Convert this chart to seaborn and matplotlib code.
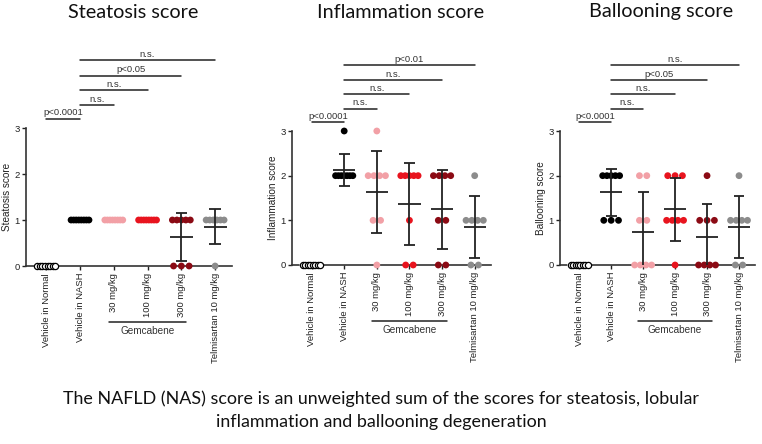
import numpy as np
import pandas as pd
import matplotlib
matplotlib.use("Agg")
import matplotlib.pyplot as plt
import matplotlib.transforms as mtransforms
import seaborn as sns

# groups along the x axis
groups = ["Vehicle in Normal", "Vehicle in NASH", "30 mg/kg", "100 mg/kg",
          "300 mg/kg", "Telmisartan 10 mg/kg"]
group_colors = ["white", "black", "#f2a0a6", "#e8141e", "#8b0a14", "#8c8c8c"]

# individual animal scores per group
steatosis = [
    [0, 0, 0, 0, 0, 0, 0, 0],
    [1, 1, 1, 1, 1, 1, 1, 1],
    [1, 1, 1, 1, 1, 1, 1, 1],
    [1, 1, 1, 1, 1, 1, 1, 1],
    [1, 1, 1, 1, 1, 0, 0, 0],
    [1, 1, 1, 1, 1, 1, 0],
]
inflammation = [
    [0, 0, 0, 0, 0, 0, 0, 0],
    [3, 2, 2, 2, 2, 2, 2, 2],
    [3, 2, 2, 2, 2, 1, 1, 0],
    [2, 2, 2, 2, 2, 1, 0, 0],
    [2, 2, 2, 2, 1, 1, 0, 0],
    [2, 1, 1, 1, 1, 0, 0],
]
ballooning = [
    [0, 0, 0, 0, 0, 0, 0, 0],
    [2, 2, 2, 2, 2, 1, 1, 1],
    [2, 2, 1, 1, 0, 0, 0, 0],
    [2, 2, 2, 1, 1, 1, 1, 0],
    [2, 1, 1, 1, 0, 0, 0, 0],
    [2, 1, 1, 1, 1, 0, 0],
]

# significance brackets: (from group, to group, label)
steatosis_stats = [(0, 1, "p<0.0001"), (1, 2, "n.s."), (1, 3, "n.s."),
                   (1, 4, "p<0.05"), (1, 5, "n.s.")]
inflammation_stats = [(0, 1, "p<0.0001"), (1, 2, "n.s."), (1, 3, "n.s."),
                      (1, 4, "n.s."), (1, 5, "p<0.01")]
ballooning_stats = [(0, 1, "p<0.0001"), (1, 2, "n.s."), (1, 3, "n.s."),
                    (1, 4, "p<0.05"), (1, 5, "n.s.")]

titles = ["Steatosis score", "Inflammation score", "Ballooning score"]
caption = ("The NAFLD (NAS) score is an unweighted sum of the scores for steatosis, lobular\n"
           "inflammation and ballooning degeneration")

sns.set_theme(style="ticks")
plt.rcParams["font.family"] = ["Liberation Sans", "DejaVu Sans"]

W, H = 762, 444
fig = plt.figure(figsize=(W / 100, H / 100), dpi=100)

# axes boxes in pixels: (left, right, y of 3, y of 0), plus title centre
panels = [
    (26, 232, 128, 266, 133),
    (292, 491, 131, 265, 401),
    (560, 755, 131, 265, 661),
]
bracket_levels = [3.2, 3.5, 3.82, 4.14, 4.47]
ink = "#222222"


def dot_frame(data):
    rows = []
    for gi, vals in enumerate(data):
        vals = np.array(vals)
        for v in np.unique(vals):
            k = int((vals == v).sum())
            step = 0.0 if k == 1 else min(0.23, 0.53 / (k - 1))
            offs = (np.arange(k) - (k - 1) / 2) * step
            for o in offs:
                rows.append({"x": gi + o, "score": v, "group": groups[gi]})
    return pd.DataFrame(rows)


for p, (data, stats, title) in enumerate(zip([steatosis, inflammation, ballooning],
                                             [steatosis_stats, inflammation_stats, ballooning_stats],
                                             titles)):
    left, right, ytop, ybot, tcx = panels[p]
    ax = fig.add_axes([left / W, (H - ybot) / H, (right - left) / W, (ybot - ytop) / H])
    df = dot_frame(data)
    sns.scatterplot(data=df, x="x", y="score", hue="group", palette=dict(zip(groups, group_colors)),
                    hue_order=groups, s=24, edgecolor=None, linewidth=0, legend=False,
                    ax=ax, clip_on=False, zorder=3)
    # open circles for the normal group
    normal = df[df["group"] == groups[0]]
    ax.scatter(normal["x"], normal["score"], s=20, facecolor="white", edgecolor="black",
               linewidth=0.9, clip_on=False, zorder=4)

    # mean and SD bars
    for gi, vals in enumerate(data):
        m = np.mean(vals)
        sd = np.std(vals, ddof=1)
        if sd == 0:
            continue
        ax.hlines(m, gi - 0.34, gi + 0.34, color=ink, lw=1.3, zorder=5)
        ax.vlines(gi, m - sd, m + sd, color=ink, lw=1.3, zorder=5)
        ax.hlines([m - sd, m + sd], gi - 0.17, gi + 0.17, color=ink, lw=1.3, zorder=5)

    ax.set_xlim(-0.6, 5.5)
    ax.set_ylim(0, 3)
    ax.set_yticks([0, 1, 2, 3])
    ax.set_xticks(range(len(groups)))
    ax.set_xticklabels(groups, rotation=90, fontsize=6.8)
    ax.tick_params(axis="y", labelsize=6.8, length=3, width=1, colors=ink, pad=1.5)
    ax.tick_params(axis="x", length=3, width=1, colors=ink, pad=2)
    ax.set_xlabel("")
    ax.set_ylabel(title, fontsize=7.2, color=ink, labelpad=2)
    sns.despine(ax=ax)
    for sp in ["left", "bottom"]:
        ax.spines[sp].set_linewidth(1.2)
        ax.spines[sp].set_color("#333333")

    # significance brackets
    for (a, b, lab), lev in zip(stats, bracket_levels):
        ax.plot([a, b], [lev, lev], color=ink, lw=1.1, clip_on=False)
        ax.text((a + b) / 2, lev + 0.03, lab, ha="center", va="bottom", fontsize=6.8,
                color="#333333", clip_on=False)

    # Gemcabene grouping line below the dose labels
    tr = mtransforms.blended_transform_factory(ax.transData, ax.transAxes)
    gy = -56 / (ybot - ytop)
    ax.plot([1.85, 4.15], [gy, gy], color=ink, lw=1.1, transform=tr, clip_on=False)
    ax.text(3, gy - 0.03, "Gemcabene", transform=tr, ha="center", va="top", fontsize=7.2,
            color="#333333")

    fig.text(tcx / W, 1 - 12 / H, title, ha="center", va="center", fontsize=14.3,
             family=["Lato", "DejaVu Sans"], color="#111111")

fig.text(0.5, 1 - 410 / H, caption, ha="center", va="center", fontsize=12.9,
         family=["Lato", "DejaVu Sans"], color="#111111", linespacing=1.55)

fig.savefig("out.png", dpi=100)
